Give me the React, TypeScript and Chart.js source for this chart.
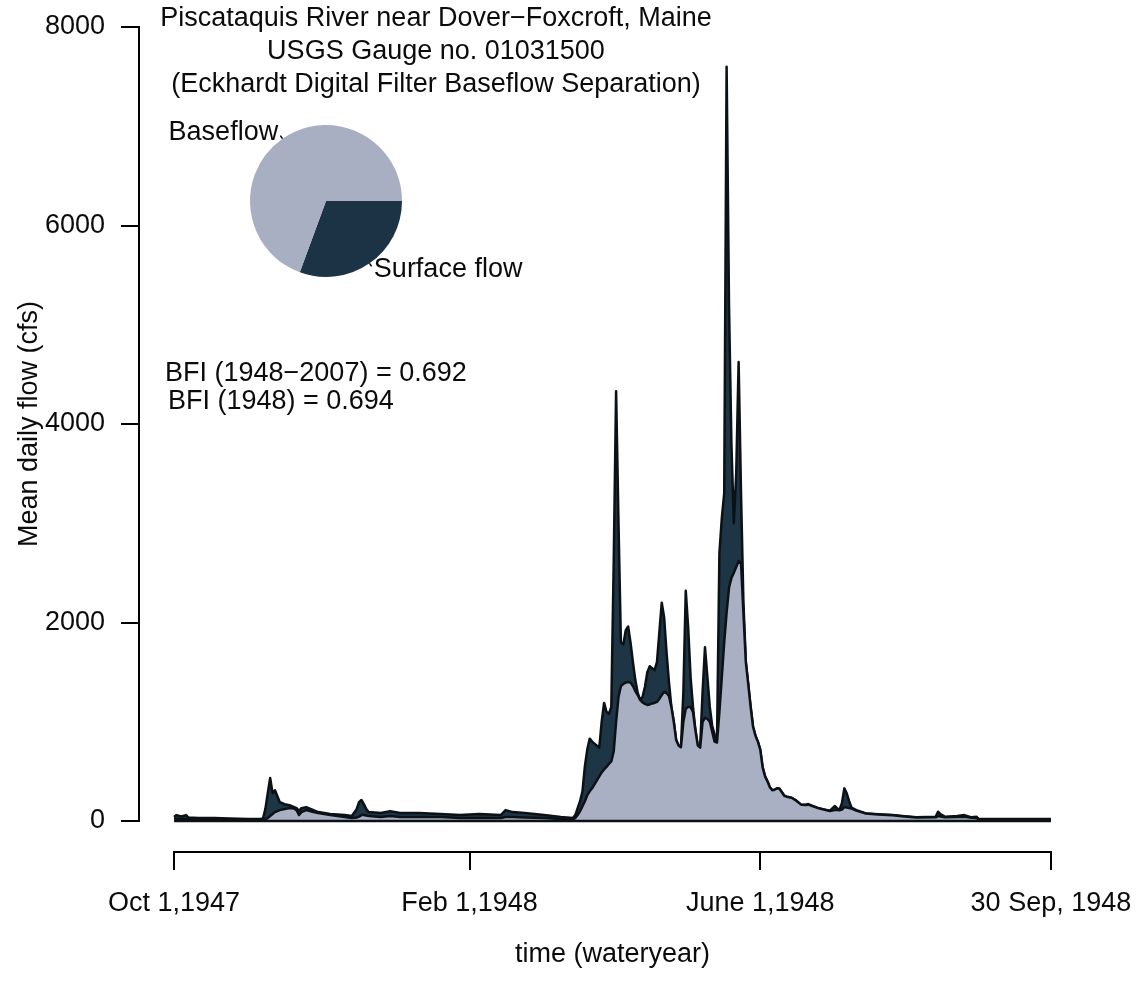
import React, { useEffect, useRef } from 'react';
import { Chart, registerables } from 'chart.js';

Chart.register(...registerables);

// ---- data (day index from Oct 1, 1947; flows in cfs) ----
const flowDays = [
  0, 1, 3, 5, 6, 10, 17, 23, 31, 36, 37, 38, 39, 40, 41, 42, 43, 44, 46, 48,
  50, 51, 52, 53, 55, 58, 60, 65, 71, 74, 76, 77, 78, 79, 80, 81, 86, 90, 94, 102,
  111, 119, 127, 136, 138, 141, 146, 154, 161, 166, 167, 168, 169, 170, 171, 172, 173, 174, 175, 176,
  177, 178, 179, 180, 181, 182, 183, 184, 185, 186, 187, 188, 189, 190, 191, 192, 193, 194, 195, 196,
  197, 198, 199, 200, 201, 202, 203, 204, 205, 206, 207, 208, 209, 210, 211, 212, 213, 214, 215, 216,
  217, 218, 219, 220, 221, 222, 223, 224, 225, 226, 227, 228, 229, 230, 231, 232, 233, 234, 235, 236,
  237, 238, 239, 240, 241, 242, 243, 244, 245, 246, 247, 248, 249, 250, 251, 252, 253, 254, 255, 257,
  259, 261, 263, 264, 266, 268, 270, 273, 275, 276, 277, 278, 279, 280, 281, 282, 284, 288, 293, 299,
  304, 309, 317, 318, 319, 321, 326, 329, 332, 334, 335, 345, 365,
];
const totalFlow = [
  40, 60, 45, 60, 35, 30, 30, 25, 20, 20, 25, 120, 280, 433, 280, 310, 250, 190, 170, 160,
  140, 130, 100, 130, 140, 110, 90, 70, 60, 50, 120, 190, 212, 170, 120, 90, 80, 100, 80, 80,
  70, 60, 70, 60, 110, 90, 80, 60, 40, 30, 60, 130, 200, 300, 550, 720, 830, 800, 780, 760,
  740, 1000, 1190, 1100, 1080, 1150, 2600, 4330, 3000, 1800, 1780, 1920, 1960, 1800, 1600, 1420, 1290, 1220, 1250, 1350,
  1500, 1560, 1540, 1520, 1600, 1900, 2200, 2050, 1700, 1400, 1150, 1000, 816, 760, 745, 1300, 2320, 1950, 1450, 1150,
  917, 760, 750, 1300, 1750, 1450, 1150, 960, 870, 800, 2700, 3050, 3300, 7600, 5200, 3800, 3000, 3500, 4625, 3300,
  2200, 1600, 1380, 1150, 950, 860, 800, 720, 540, 450, 400, 340, 310, 315, 330, 325, 290, 255, 245, 235,
  205, 165, 165, 171, 150, 131, 120, 104, 151, 130, 111, 180, 329, 280, 200, 135, 110, 77, 68, 60,
  48, 37, 43, 94, 70, 43, 50, 60, 37, 43, 20, 20, 20,
];
const baseFlow = [
  20, 20, 20, 20, 20, 15, 15, 15, 12, 12, 12, 15, 30, 50, 70, 90, 100, 110, 120, 130,
  125, 110, 60, 90, 110, 90, 80, 60, 40, 30, 35, 45, 60, 60, 55, 50, 40, 50, 40, 40,
  40, 30, 30, 30, 40, 40, 35, 30, 20, 20, 30, 60, 100, 150, 200, 260, 300, 330, 370, 410,
  450, 490, 520, 545, 575, 600, 700, 1000, 1250, 1360, 1380, 1395, 1400, 1395, 1360, 1310, 1270, 1220, 1195, 1180,
  1170, 1175, 1185, 1190, 1200, 1230, 1270, 1300, 1290, 1260, 1150, 1000, 816, 760, 745, 1000, 1130, 1150, 1150, 1100,
  917, 760, 740, 1000, 1040, 1030, 1000, 900, 800, 790, 1100, 1450, 1800, 2100, 2350, 2450, 2500, 2560, 2620, 2600,
  2100, 1600, 1380, 1150, 950, 860, 800, 720, 540, 450, 400, 340, 310, 315, 330, 325, 290, 255, 245, 235,
  205, 165, 162, 165, 148, 130, 118, 100, 110, 112, 108, 115, 140, 135, 130, 125, 105, 75, 66, 58,
  46, 35, 38, 50, 45, 38, 40, 42, 32, 30, 15, 12, 12,
];
const zeroDays = [0, 365];
const zeroFlow = [0, 0];

const yTickValues = [0, 2000, 4000, 6000, 8000];
const xTickDays = [0, 123, 244, 365];
const xTickLabels = ['Oct 1,1947', 'Feb 1,1948', 'June 1,1948', '30 Sep, 1948'];

const titleLines = [
  'Piscataquis River near Dover\u2212Foxcroft, Maine',
  'USGS Gauge no. 01031500',
  '(Eckhardt Digital Filter Baseflow Separation)',
];
const bfiLines = ['BFI (1948\u22122007) = 0.692', 'BFI (1948) = 0.694'];
const yAxisTitle = 'Mean daily flow (cfs)';
const xAxisTitle = 'time (wateryear)';

const pieLabels = ['Surface flow', 'Baseflow'];
const pieValues = [0.306, 0.694];

// ---- styles ----
const FONT_FAMILY = '"Liberation Sans", Arial, Helvetica, sans-serif';
const FONT_SIZE = 27;
const TEXT_COLOR = '#0b0b0b';
const OUTLINE = '#0c1116';
const TOTAL_FILL = '#1d3545';
const BASE_FILL = '#a9b0c3';
const PIE_DARK = '#1b3345';
const PIE_LIGHT = '#a8afc3';

const toPoints = (xs: number[], ys: number[]) => xs.map((x, i) => ({ x, y: ys[i] }));

const axisLinesPlugin = {
  id: 'rAxisLines',
  afterDraw(chart: any) {
    const { ctx, scales } = chart;
    const xs = scales.x;
    const ys = scales.y;
    ctx.save();
    ctx.strokeStyle = '#000';
    ctx.lineWidth = 2;
    ctx.lineCap = 'square';
    const yx = Math.round(ys.right);
    ctx.beginPath();
    ctx.moveTo(yx, ys.getPixelForValue(yTickValues[0]));
    ctx.lineTo(yx, ys.getPixelForValue(yTickValues[yTickValues.length - 1]));
    ctx.stroke();
    const xy = Math.round(xs.top);
    ctx.beginPath();
    ctx.moveTo(xs.getPixelForValue(xTickDays[0]), xy);
    ctx.lineTo(xs.getPixelForValue(xTickDays[xTickDays.length - 1]), xy);
    ctx.stroke();
    ctx.restore();
  },
};

const annotationPlugin = {
  id: 'rAnnotations',
  afterDraw(chart: any) {
    const ctx = chart.ctx;
    ctx.save();
    ctx.fillStyle = TEXT_COLOR;
    ctx.font = `${FONT_SIZE}px ${FONT_FAMILY}`;
    ctx.textBaseline = 'middle';
    ctx.textAlign = 'center';
    titleLines.forEach((t, i) => ctx.fillText(t, 436, 19 + i * 33));
    ctx.textAlign = 'left';
    ctx.fillText(bfiLines[0], 165, 374);
    ctx.fillText(bfiLines[1], 168, 402);
    ctx.translate(30, 424);
    ctx.rotate(-Math.PI / 2);
    ctx.textAlign = 'center';
    ctx.fillText(yAxisTitle, 0, 0);
    ctx.restore();
  },
};

const pieLabelPlugin = {
  id: 'rPieLabels',
  afterDraw(chart: any) {
    const ctx = chart.ctx;
    const meta = chart.getDatasetMeta(0);
    ctx.save();
    ctx.fillStyle = TEXT_COLOR;
    ctx.strokeStyle = '#000';
    ctx.lineWidth = 1.5;
    ctx.font = `${FONT_SIZE}px ${FONT_FAMILY}`;
    ctx.textBaseline = 'middle';
    meta.data.forEach((arc: any, i: number) => {
      const p = arc.getProps(['x', 'y', 'startAngle', 'endAngle', 'outerRadius'], true);
      const mid = (p.startAngle + p.endAngle) / 2;
      const c = Math.cos(mid);
      const s = Math.sin(mid);
      const r = p.outerRadius;
      ctx.beginPath();
      ctx.moveTo(p.x + c * r, p.y + s * r);
      ctx.lineTo(p.x + c * r * 1.05, p.y + s * r * 1.05);
      ctx.stroke();
      ctx.textAlign = c > 0 ? 'left' : 'right';
      ctx.fillText(chart.data.labels[i], p.x + c * r * 1.1, p.y + s * r * 1.1);
    });
    ctx.restore();
  },
};

export default function App() {
  const mainRef = useRef<HTMLCanvasElement>(null);
  const pieRef = useRef<HTMLCanvasElement>(null);

  useEffect(() => {
    if (!mainRef.current || !pieRef.current) return;
    const tickFont = { family: FONT_FAMILY, size: FONT_SIZE, lineHeight: 1.2 };

    const main = new Chart(mainRef.current, {
      type: 'line',
      data: {
        datasets: [
          {
            label: 'zero',
            data: toPoints(zeroDays, zeroFlow),
            borderColor: OUTLINE,
            borderWidth: 2.5,
            pointRadius: 0,
            fill: false,
            order: 0,
          },
          {
            label: 'Baseflow',
            data: toPoints(flowDays, baseFlow),
            borderColor: OUTLINE,
            backgroundColor: BASE_FILL,
            borderWidth: 2.5,
            borderJoinStyle: 'round',
            pointRadius: 0,
            fill: 'origin',
            order: 1,
          },
          {
            label: 'Total flow',
            data: toPoints(flowDays, totalFlow),
            borderColor: OUTLINE,
            backgroundColor: TOTAL_FILL,
            borderWidth: 2.5,
            borderJoinStyle: 'round',
            pointRadius: 0,
            fill: 'origin',
            order: 2,
          },
        ],
      },
      options: {
        responsive: false,
        animation: false,
        devicePixelRatio: 1,
        layout: { padding: { left: 0, top: 27, right: 60, bottom: 0 } },
        plugins: {
          legend: { display: false },
          tooltip: { enabled: false },
          title: { display: false },
        },
        scales: {
          x: {
            type: 'linear',
            position: 'bottom',
            min: -14.6,
            max: 379.6,
            afterBuildTicks: (s: any) => {
              s.ticks = xTickDays.map((v) => ({ value: v }));
            },
            afterFit: (s: any) => {
              s.height = 132;
              s.paddingLeft = 0;
              s.paddingRight = 0;
              s.paddingTop = 0;
              s.paddingBottom = 0;
            },
            ticks: {
              callback: (_v: any, i: number) => xTickLabels[i],
              autoSkip: false,
              maxRotation: 0,
              minRotation: 0,
              font: tickFont,
              color: TEXT_COLOR,
              padding: 17,
            },
            grid: {
              display: true,
              drawOnChartArea: false,
              drawTicks: true,
              tickLength: 18,
              color: '#000',
              lineWidth: 2,
            },
            border: { display: false },
            title: {
              display: true,
              text: xAxisTitle,
              font: tickFont,
              color: TEXT_COLOR,
              padding: { top: 0, bottom: 13 },
            },
          },
          y: {
            type: 'linear',
            min: -312,
            max: 8000,
            afterBuildTicks: (s: any) => {
              s.ticks = yTickValues.map((v) => ({ value: v }));
            },
            afterFit: (s: any) => {
              s.width = 139;
              s.paddingLeft = 0;
              s.paddingRight = 0;
              s.paddingTop = 0;
              s.paddingBottom = 0;
            },
            ticks: {
              callback: (v: any) => String(v),
              font: tickFont,
              color: TEXT_COLOR,
              padding: 16,
            },
            grid: {
              display: true,
              drawOnChartArea: false,
              drawTicks: true,
              tickLength: 18,
              color: '#000',
              lineWidth: 2,
            },
            border: { display: false },
          },
        },
      },
      plugins: [axisLinesPlugin, annotationPlugin],
    } as any);

    const pie = new Chart(pieRef.current, {
      type: 'pie',
      data: {
        labels: pieLabels,
        datasets: [
          {
            data: pieValues,
            backgroundColor: [PIE_DARK, PIE_LIGHT],
            borderWidth: 0,
          },
        ],
      },
      options: {
        responsive: false,
        animation: false,
        devicePixelRatio: 1,
        rotation: 90,
        layout: { padding: { left: 250, top: 125, right: 1146 - 402, bottom: 984 - 277 } },
        plugins: {
          legend: { display: false },
          tooltip: { enabled: false },
          title: { display: false },
        },
      },
      plugins: [pieLabelPlugin],
    } as any);

    return () => {
      main.destroy();
      pie.destroy();
    };
  }, []);

  return (
    <div style={{ position: 'absolute', left: 0, top: 0, width: 1146, height: 984, background: '#fff' }}>
      <canvas ref={mainRef} width={1146} height={984} style={{ position: 'absolute', left: 0, top: 0 }} />
      <canvas
        ref={pieRef}
        width={1146}
        height={984}
        style={{ position: 'absolute', left: 0, top: 0, pointerEvents: 'none' }}
      />
    </div>
  );
}
